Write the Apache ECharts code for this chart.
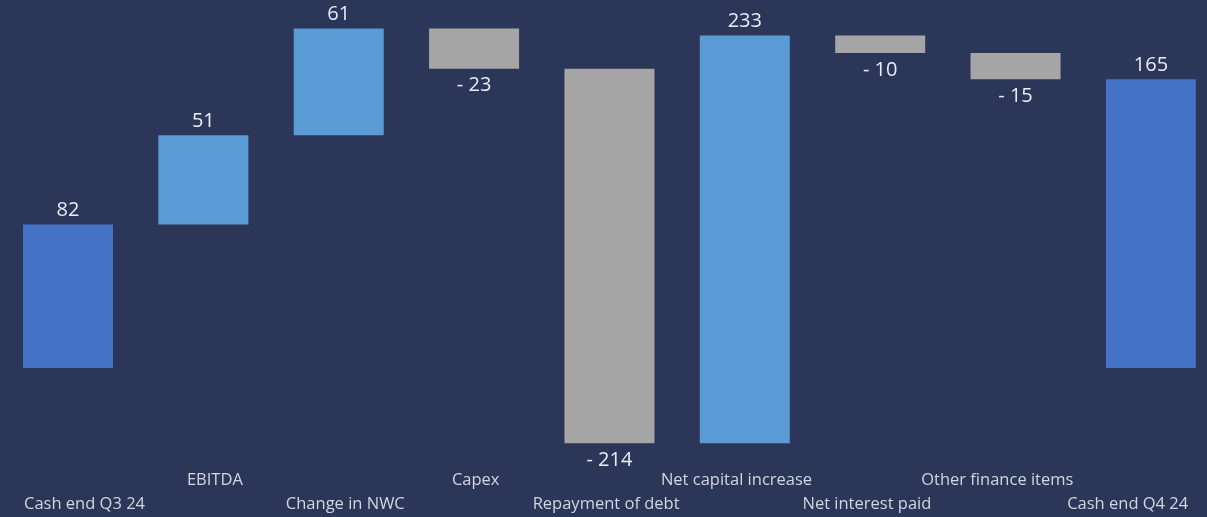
<!DOCTYPE html>
<html><head><meta charset="utf-8">
<script src="https://cdn.jsdelivr.net/npm/echarts@6/dist/echarts.min.js"></script>
<style>html,body{margin:0;padding:0;background:#2b3659;}#c{width:1207px;height:517px;}</style>
</head><body><div id="c"></div>
<script>
const categories = ['Cash end Q3 24','EBITDA','Change in NWC','Capex','Repayment of debt','Net capital increase','Net interest paid','Other finance items','Cash end Q4 24'];
const values = [82, 51, 61, -23, -214, 233, -10, -15, 165];
const kinds = ['total','step','step','step','step','step','step','step','total'];
const colors = {total:'#4472c4', up:'#5b9bd5', down:'#a5a5a5'};

const data = [];
let run = 0;
values.forEach((v, i) => {
  let lo, hi, kind;
  if (kinds[i] === 'total') { lo = 0; hi = v; run = v; kind = 'total'; }
  else { const s = run; run = s + v; lo = Math.min(s, run); hi = Math.max(s, run); kind = v >= 0 ? 'up' : 'down'; }
  data.push([i, lo, hi, v, kind]);
});

const chart = echarts.init(document.getElementById('c'));
chart.setOption({
  backgroundColor: '#2b3659',
  animation: false,
  grid: [
    {left: 0.3, right: 0, top: 18, bottom: 61.5},
    {left: 19.3, right: 14.1, top: 18, bottom: 61.5}
  ],
  xAxis: [{
    type: 'value', gridIndex: 0, min: -0.5, max: 8.4143, show: false, splitLine: {show: false}
  }, {
    type: 'category', data: categories, gridIndex: 1,
    axisLine: {show: false}, axisTick: {show: false},
    axisLabel: {
      interval: 0, margin: 13, color: '#d3d6de', fontFamily: 'Open Sans', fontSize: 16.5,
      verticalAlign: 'top', lineHeight: 24, hideOverlap: false,
      formatter: (val, idx) => idx % 2 === 0 ? '\n' + val : val
    }
  }],
  yAxis: [
    {type: 'value', min: -50, max: 200, show: false, gridIndex: 0},
    {type: 'value', min: -50, max: 200, show: false, gridIndex: 1}
  ],
  series: [{
    type: 'custom',
    xAxisIndex: 0, yAxisIndex: 0,
    data: data,
    encode: {x: 0, y: [1, 2]},
    renderItem: (params, api) => {
      const i = api.value(0), lo = api.value(1), hi = api.value(2), v = api.value(3);
      const kind = data[params.dataIndex][4];
      const top = api.coord([i, hi]);
      const bot = api.coord([i, lo]);
      const w = api.size([1, 0])[0] * 0.665;
      const neg = v < 0;
      const label = neg ? '- ' + Math.abs(v) : String(v);
      return {
        type: 'group',
        children: [
          {type: 'rect', shape: {x: top[0] - w / 2, y: top[1], width: w, height: bot[1] - top[1]},
           style: {fill: colors[kind]}},
          {type: 'text', style: {text: label, x: top[0], y: neg ? bot[1] + 17 : top[1] - 14,
            align: 'center', verticalAlign: 'middle', fill: '#e9edf6', fontFamily: 'Open Sans', fontSize: 20}}
        ]
      };
    }
  }]
});
</script></body></html>
